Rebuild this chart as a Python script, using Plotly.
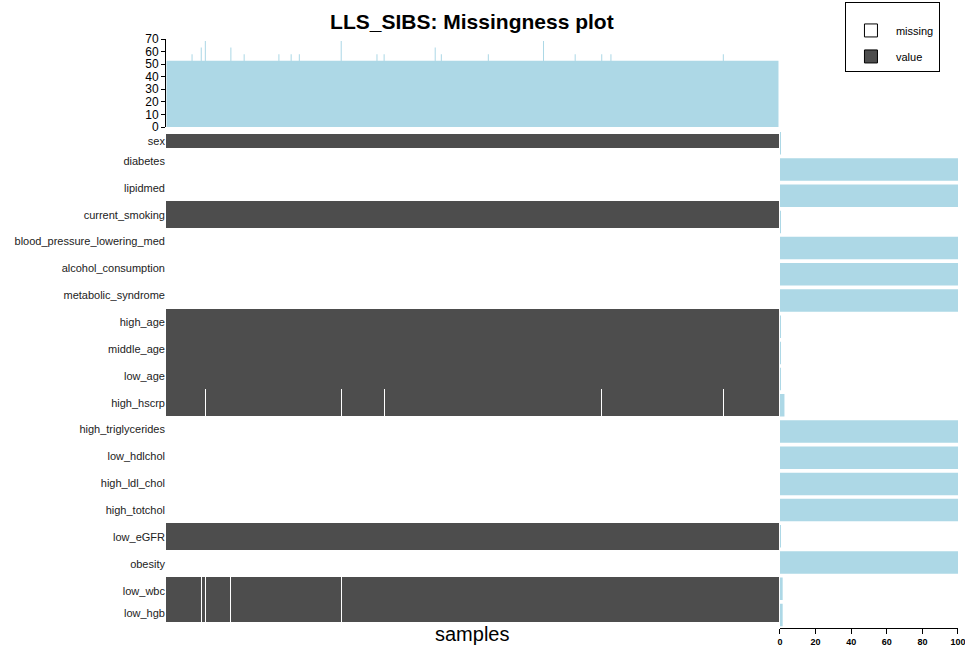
### Missingness plot: per-sample bar on top, heatmap in the middle, per-variable bar on the right
import numpy as np
import plotly.graph_objects as go

# rows of the heatmap, top to bottom
variables = ["sex", "diabetes", "lipidmed", "current_smoking", "blood_pressure_lowering_med",
             "alcohol_consumption", "metabolic_syndrome", "high_age", "middle_age", "low_age",
             "high_hscrp", "high_triglycerides", "low_hdlchol", "high_ldl_chol", "high_totchol",
             "low_eGFR", "obesity", "low_wbc", "low_hgb"]

# 1 = variable has values for (almost) every sample, 0 = variable is missing everywhere
row_has_values = [1, 0, 0, 1, 0, 0, 0, 1, 1, 1, 1, 0, 0, 0, 0, 1, 0, 1, 1]

n_samples = 600

# samples with a missing value inside the otherwise filled rows
hscrp_missing = [38, 171, 213, 426, 545]
wbc_hgb_missing = [34, 38, 63, 171]

# top bar: % of variables missing per sample
sample_base_pct = 52.6
spike_samples = [25, 34, 38, 63, 76, 110, 122, 130, 171, 206, 213, 263, 269, 315, 369, 400, 426, 435, 545]
spike_pct = [57.9, 63.2, 68.4, 63.2, 57.9, 57.9, 57.9, 57.9, 68.4, 57.9, 57.9, 63.2, 57.9, 57.9, 68.4,
             57.9, 57.9, 57.9, 57.9]

# right bar: % of samples missing per variable
var_pct_missing = [0.5, 100, 100, 0.5, 100, 100, 100, 0.5, 0.5, 0.5, 2.5, 100, 100, 100, 100, 0.5, 100, 1.5, 1.5]

#### build the matrix and the per-sample series
z = np.array([[v] * n_samples for v in row_has_values], dtype=float)
z[variables.index("high_hscrp"), hscrp_missing] = 0
z[variables.index("low_wbc"), wbc_hgb_missing] = 0
z[variables.index("low_hgb"), wbc_hgb_missing] = 0

sample_pct = np.full(n_samples, sample_base_pct)
sample_pct[spike_samples] = spike_pct

FONT = "Liberation Sans, Arial, Helvetica, sans-serif"
DARK = "#4D4D4D"
BLUE = "#ADD8E6"

# heatmap y range: first row cut in half at the top, last row cut at the bottom
y_lo, y_hi = 0.0, 18.16
tick_pos = [(max(i - 0.5, y_lo) + min(i + 0.5, y_hi)) / 2 for i in range(len(variables))]

fig = go.Figure()

fig.add_trace(go.Heatmap(z=z, x=np.arange(n_samples), y=np.arange(len(variables)),
                         colorscale=[[0, "white"], [1, DARK]], zmin=0, zmax=1,
                         showscale=False, hoverinfo="skip", xaxis="x", yaxis="y"))

# per-sample bars drawn as one step area (one bar per sample, no seams between them)
fig.add_trace(go.Scatter(x=np.arange(n_samples), y=sample_pct, mode="lines",
                         line=dict(shape="hvh", width=0, color=BLUE),
                         fill="tozeroy", fillcolor=BLUE,
                         showlegend=False, hoverinfo="skip", xaxis="x2", yaxis="y2"))

fig.add_trace(go.Bar(x=var_pct_missing, y=variables, orientation="h", width=0.86,
                     marker=dict(color=BLUE, line=dict(width=0)),
                     showlegend=False, xaxis="x3", yaxis="y3"))

# legend entries
fig.add_trace(go.Scatter(x=[None], y=[None], mode="markers", name="missing", legendgroup="a",
                         marker=dict(symbol="square", size=13, color="white",
                                     line=dict(color="black", width=1)),
                         xaxis="x", yaxis="y"))
fig.add_trace(go.Scatter(x=[None], y=[None], mode="markers", name="value", legendgroup="b",
                         marker=dict(symbol="square", size=13, color=DARK,
                                     line=dict(color="black", width=1)),
                         xaxis="x", yaxis="y"))

fig.update_layout(
    width=965, height=648, autosize=False,
    margin=dict(l=0, r=0, t=0, b=0, autoexpand=False),
    paper_bgcolor="white", plot_bgcolor="white",
    font=dict(family=FONT, color="black"),
    title=dict(text="<b>LLS_SIBS: Missingness plot</b>", x=0.489, xanchor="center",
               y=0.966, yanchor="middle", font=dict(size=21, family=FONT), automargin=False),
    xaxis=dict(domain=[0.17202, 0.80725], range=[-0.5, n_samples - 0.5], automargin=False,
               showticklabels=False, showgrid=False, zeroline=False, showline=False, ticks=""),
    yaxis=dict(domain=[0.04012, 0.79306], range=[y_hi, y_lo], automargin=False,
               tickvals=tick_pos, ticktext=variables, ticks="",
               tickfont=dict(size=11, color="#222222"),
               showgrid=False, zeroline=False, showline=False),
    xaxis2=dict(domain=[0.17202, 0.80725], range=[-0.5, n_samples - 0.5], anchor="y2",
                visible=False, automargin=False),
    yaxis2=dict(domain=[0.80401, 0.93981], range=[0, 70], anchor="x2", dtick=10,
                automargin=False, ticks="outside", ticklen=4, tickwidth=1, tickcolor="black",
                showline=True, linecolor="black", linewidth=1,
                showgrid=False, zeroline=False, tickfont=dict(size=12)),
    xaxis3=dict(domain=[0.80829, 0.99275], range=[0, 100], anchor="y3", dtick=20,
                automargin=False, ticklabeloverflow="allow",
                ticks="outside", ticklen=5, tickwidth=1, tickcolor="black",
                showline=True, linecolor="black", linewidth=1,
                showgrid=False, zeroline=False, tickfont=dict(size=9, weight="bold")),
    yaxis3=dict(domain=[0.03086, 0.79907], anchor="x3", type="category",
                autorange="reversed", visible=False, automargin=False),
    legend=dict(x=0.8756, y=0.997, xanchor="left", yanchor="top",
                bordercolor="black", borderwidth=1, bgcolor="white",
                font=dict(size=11, color="black"), tracegroupgap=7, itemwidth=40,
                title=dict(text=" ", font=dict(size=10))),
    annotations=[dict(text="samples", x=0.489, y=1 - 634 / 648, xref="paper", yref="paper",
                      xanchor="center", yanchor="middle", showarrow=False,
                      font=dict(size=20, family=FONT))],
)

# page body margin would shift the whole figure by 8px
fig.write_html("out.html", config={"displayModeBar": False},
               post_script="document.body.style.margin='0';")
